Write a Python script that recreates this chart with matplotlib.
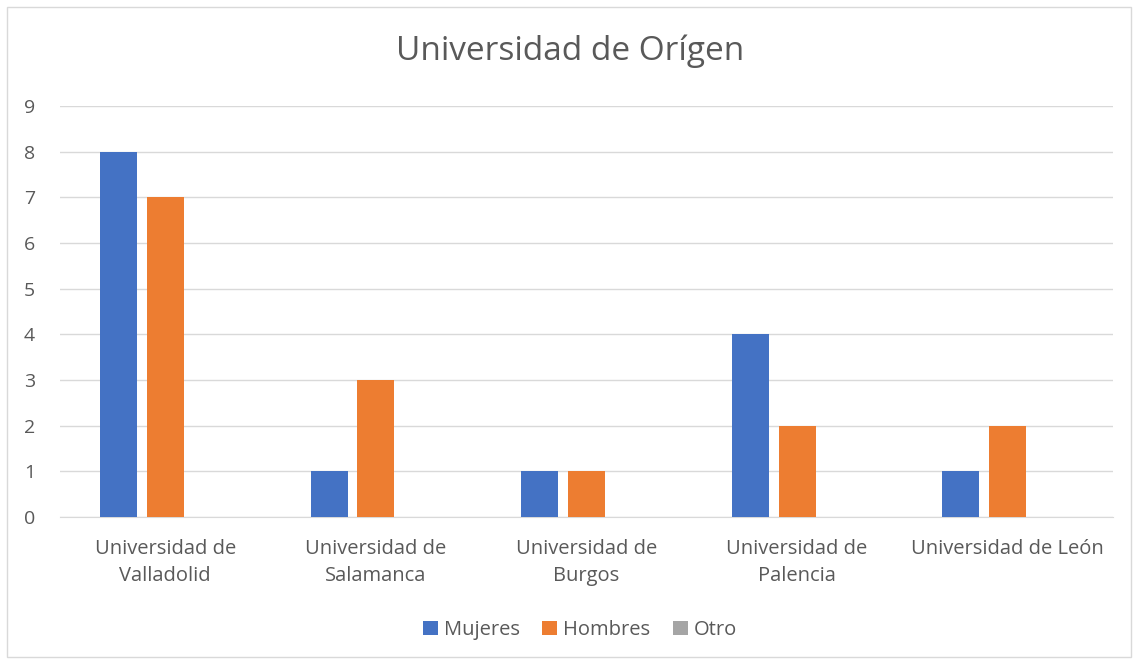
import numpy as np
import matplotlib.pyplot as plt
from matplotlib.patches import Rectangle

# data
categorias = ['Universidad de\nValladolid', 'Universidad de\nSalamanca', 'Universidad de\nBurgos',
              'Universidad de\nPalencia', 'Universidad de León']
mujeres = [8, 1, 1, 4, 1]
hombres = [7, 3, 1, 2, 2]
otro = [0, 0, 0, 0, 0]
series = ['Mujeres', 'Hombres', 'Otro']
colores = ['#4472C4', '#ED7D31', '#A5A5A5']

plt.rcParams['font.family'] = ['Open Sans', 'DejaVu Sans']
gris = '#595959'

fig = plt.figure(figsize=(11.38, 6.64), dpi=100)
fig.patches.append(Rectangle((7/1138, 7/664), 1124/1138, 650/664, transform=fig.transFigure,
                             fill=False, edgecolor='#D9D9D9', linewidth=1))
ax = fig.add_axes([60/1138, 1-517/664, 1053/1138, 411/664])

x = np.arange(len(categorias))
w = 0.176
off = 0.222
for i, (vals, nom, col) in enumerate(zip([mujeres, hombres, otro], series, colores)):
    ax.bar(x + (i-1)*off, vals, width=w, color=col, label=nom, zorder=3)

ax.set_xlim(-0.5, len(categorias)-0.5)
ax.set_ylim(0, 9)
ax.set_yticks(range(0, 10))
ax.set_xticks(x)
ax.set_xticklabels(categorias, fontsize=14.5, color=gris, linespacing=1.5)
ax.tick_params(axis='y', labelsize=14, labelcolor=gris, length=0, pad=18)
ax.tick_params(axis='x', length=0, pad=15.5)
ax.grid(axis='y', color='#D9D9D9', linewidth=1, zorder=0)
for s in ['top', 'right', 'left']:
    ax.spines[s].set_visible(False)
ax.spines['bottom'].set_color('#D9D9D9')

fig.text(570/1138, 1-51/664, 'Universidad de Orígen', fontsize=24, color=gris, ha='center', va='center')

fig.legend(loc='center', bbox_to_anchor=(580/1138, 1-630/664), ncol=3, frameon=False,
           fontsize=14.5, handlelength=0.75, handleheight=0.75, handletextpad=0.3, columnspacing=1.1,
           labelcolor=gris)

fig.savefig('out.png', dpi=100)
